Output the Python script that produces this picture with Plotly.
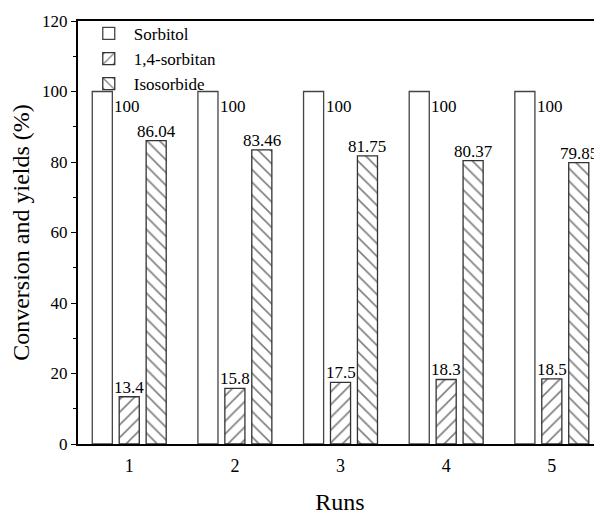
import plotly.graph_objects as go

runs = [1, 2, 3, 4, 5]
sorbitol = [100, 100, 100, 100, 100]
sorbitan = [13.4, 15.8, 17.5, 18.3, 18.5]
isosorbide = [86.04, 83.46, 81.75, 80.37, 79.85]
sorbitol_labels = ["100", "100", "100", "100", "100"]
sorbitan_labels = ["13.4", "15.8", "17.5", "18.3", "18.5"]
isosorbide_labels = ["86.04", "83.46", "81.75", "80.37", "79.85"]

FONT = "Liberation Serif"
bargap = 0.235
bargroupgap = 0.255
slot = (1 - bargap) / 3
bw = slot * (1 - bargroupgap)

fig = go.Figure()
fig.add_trace(go.Bar(x=runs, y=sorbitol, name="Sorbitol",
                     marker=dict(color="white", line=dict(color="#444444", width=1.3))))
fig.add_trace(go.Bar(x=runs, y=sorbitan, name="1,4-sorbitan",
                     marker=dict(color="white", line=dict(color="#333333", width=1.3),
                                 pattern=dict(shape="/", size=9, solidity=0.18,
                                              fgcolor="black", bgcolor="white"))))
fig.add_trace(go.Bar(x=runs, y=isosorbide, name="Isosorbide",
                     marker=dict(color="white", line=dict(color="#333333", width=1.3),
                                 pattern=dict(shape="\\", size=9, solidity=0.18,
                                              fgcolor="black", bgcolor="white"))))

ann = []
for r, v, t in zip(runs, sorbitol, sorbitol_labels):
    ann.append(dict(x=r - slot + bw / 2, y=v, text=t, xanchor="left", yanchor="top",
                    showarrow=False, xshift=0, yshift=-3,
                    font=dict(family=FONT, size=17, color="black")))
for r, v, t in zip(runs, sorbitan, sorbitan_labels):
    ann.append(dict(x=r, y=v, text=t, xanchor="center", yanchor="bottom",
                    showarrow=False, yshift=-2,
                    font=dict(family=FONT, size=17, color="black")))
for r, v, t in zip(runs, isosorbide, isosorbide_labels):
    ann.append(dict(x=r + slot, y=v, text=t, xanchor="center", yanchor="bottom",
                    showarrow=False, yshift=-2,
                    font=dict(family=FONT, size=17, color="black")))

# the page body adds an 8px offset, so margins are shifted to compensate
fig.update_layout(
    width=602, height=516,
    margin=dict(l=70, r=8, t=9, b=80),
    paper_bgcolor="white", plot_bgcolor="white",
    barmode="group", bargap=bargap, bargroupgap=bargroupgap,
    font=dict(family=FONT, size=17, color="black"),
    showlegend=True,
    legend=dict(x=0.011, y=1.012, xanchor="left", yanchor="top",
                bgcolor="rgba(0,0,0,0)", borderwidth=0,
                font=dict(family=FONT, size=17, color="black"),
                itemwidth=40, tracegroupgap=0),
    annotations=ann,
    xaxis=dict(range=[0.515, 5.475], tickmode="array", tickvals=runs,
               ticktext=[str(r) for r in runs], automargin=False,
               showline=True, linecolor="black", linewidth=2, mirror=True,
               ticks="", showgrid=False, zeroline=False, ticklabelstandoff=4,
               tickfont=dict(family=FONT, size=18),
               title=dict(text="Runs", font=dict(family=FONT, size=24), standoff=19)),
    yaxis=dict(range=[0, 120], dtick=20, tick0=0, automargin=False,
               showline=True, linecolor="black", linewidth=2,
               ticks="outside", ticklen=5, tickwidth=1, tickcolor="black",
               minor=dict(dtick=10, ticks="outside", ticklen=3, tickwidth=1, tickcolor="black"),
               showgrid=False, zeroline=False,
               tickfont=dict(family=FONT, size=17),
               title=dict(text="Conversion and yields (%)", font=dict(family=FONT, size=24), standoff=17)),
)

fig.write_html("out.html")
